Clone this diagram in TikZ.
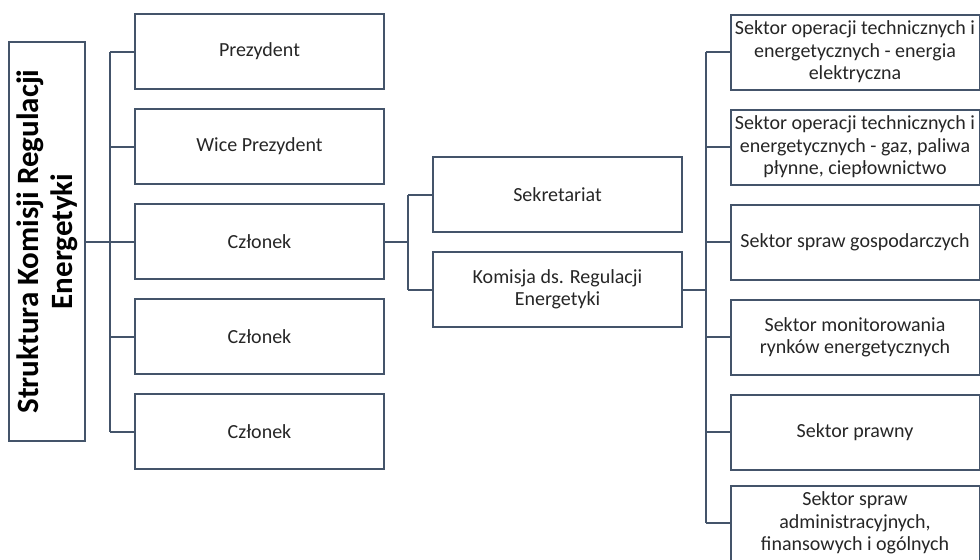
\documentclass[tikz,border=0pt]{standalone}
\usepackage{fontspec}
\setmainfont{Carlito}
\usepackage{xcolor}
\usepackage{tikz}
\usetikzlibrary{positioning, calc}

\definecolor{linec}{HTML}{44546A}
\definecolor{textc}{HTML}{262626}

\begin{document}
\begin{tikzpicture}[
x=0.5pt, y=-0.5pt,
node distance=47.5pt,
unit/.style={rectangle, draw=linec, line width=1pt, align=center, text=textc,
  minimum width=124.5pt, minimum height=37.5pt, inner sep=1pt,
  font=\fontsize{10}{11.2}\selectfont},
titlebox/.style={rectangle, draw=linec, line width=1pt, align=center, text=black,
  rotate=90, minimum width=199.5pt, minimum height=38pt, inner sep=1pt,
  font=\fontsize{15.5}{17}\selectfont\bfseries},
link/.style={draw=linec, line width=1pt}
]
\useasboundingbox (0,0) rectangle (980,559);

% title
\node[titlebox] (title) at (47,241.5) {Struktura Komisji Regulacji\\Energetyki};

% left column
\node[unit] (prez) at (259.5,51.5) {Prezydent};
\node[unit, below of=prez] (wprez) {Wice Prezydent};
\node[unit, below of=wprez] (czl1) {Członek};
\node[unit, below of=czl1] (czl2) {Członek};
\node[unit, below of=czl2] (czl3) {Członek};

% middle
\node[unit] (sekr) at (557.5,194.5) {Sekretariat};
\node[unit, below of=sekr] (komisja) {Komisja ds. Regulacji\\Energetyki};

% right column
\node[unit] (sek1) at (855,52) {Sektor operacji technicznych i\\energetycznych - energia\\elektryczna};
\node[unit, below of=sek1] (sek2) {Sektor operacji technicznych i\\energetycznych - gaz, paliwa\\płynne, ciepłownictwo};
\node[unit, below of=sek2] (sek3) {Sektor spraw gospodarczych};
\node[unit, below of=sek3] (sek4) {Sektor monitorowania\\rynków energetycznych};
\node[unit, below of=sek4] (sek5) {Sektor prawny};
\node[unit, below of=sek5, yshift=2pt] (sek6) {Sektor spraw\\administracyjnych,\\finansowych i ogólnych};

\coordinate (lbus) at (110,0);
\coordinate (mbus) at (408,0);
\coordinate (rbus) at (706,0);

% left connectors
\draw[link] (title.south) -- (czl1.west);
\draw[link] (prez.west -| lbus) -- (czl3.west -| lbus);
\draw[link] (prez.west) -- (prez.west -| lbus);
\draw[link] (wprez.west) -- (wprez.west -| lbus);
\draw[link] (czl2.west) -- (czl2.west -| lbus);
\draw[link] (czl3.west) -- (czl3.west -| lbus);

% middle connectors
\draw[link] (czl1.east) -- (czl1.east -| mbus);
\draw[link] (sekr.west -| mbus) -- (komisja.west -| mbus);
\draw[link] (sekr.west) -- (sekr.west -| mbus);
\draw[link] (komisja.west) -- (komisja.west -| mbus);

% right connectors
\draw[link] (komisja.east) -- (komisja.east -| rbus);
\draw[link] (sek1.west -| rbus) -- (sek6.west -| rbus);
\draw[link] (sek1.west) -- (sek1.west -| rbus);
\draw[link] (sek2.west) -- (sek2.west -| rbus);
\draw[link] (sek3.west) -- (sek3.west -| rbus);
\draw[link] (sek4.west) -- (sek4.west -| rbus);
\draw[link] (sek5.west) -- (sek5.west -| rbus);
\draw[link] (sek6.west) -- (sek6.west -| rbus);

\end{tikzpicture}
\end{document}
